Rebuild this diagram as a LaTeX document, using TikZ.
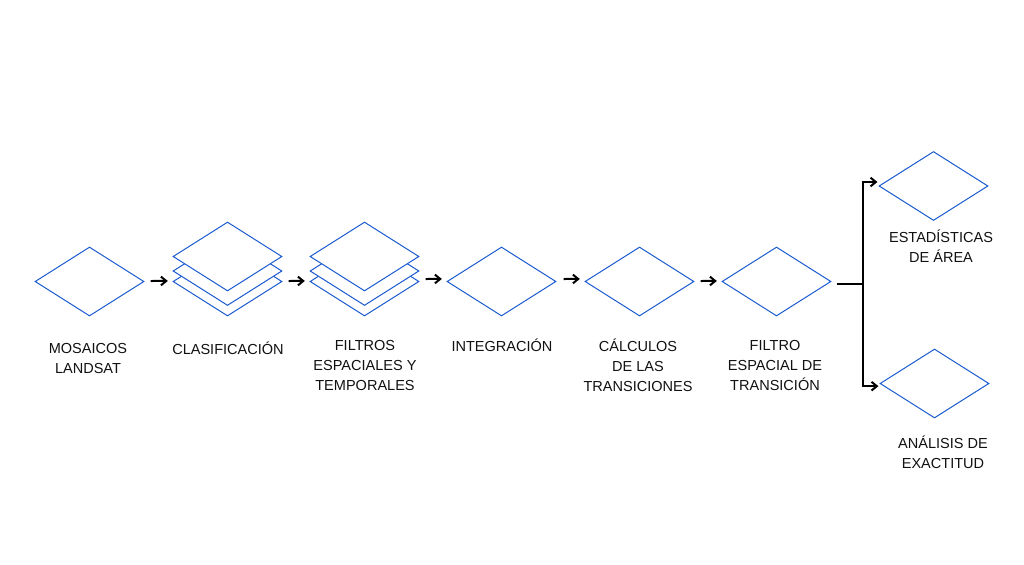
\documentclass[tikz,border=0pt]{standalone}
\usepackage{fontspec}
\setmainfont{Liberation Sans}
\usetikzlibrary{shapes.geometric,arrows.meta}
\definecolor{dblue}{HTML}{1A5BD0}
\definecolor{txt}{HTML}{111111}
\begin{document}
\begin{tikzpicture}[x=0.75pt,y=-0.75pt,
  dia/.style={diamond,draw=dblue,fill=white,line width=0.75pt,inner sep=0pt,minimum width=81.75pt,minimum height=51.75pt},
  lbl/.style={font=\fontsize{10.9}{15}\selectfont,text=txt,align=center,inner sep=0pt},
  arr/.style={-{Straight Barb[length=4pt,width=6.5pt]},line width=1.5pt,black},
  ln/.style={line width=1.5pt,black}]
\useasboundingbox (0,0) rectangle (1024,564);
\fill[white] (0,0) rectangle (1024,564);
% diamonds
\node[dia] (d1) at (89.5,281.5) {};
\node[dia] (d2c) at (227.5,281.5) {};
\node[dia] (d2b) at (227.5,271) {};
\node[dia] (d2) at (227.5,256.5) {};
\node[dia] (d3c) at (364.5,281.5) {};
\node[dia] (d3b) at (364.5,271) {};
\node[dia] (d3) at (364.5,256.5) {};
\node[dia] (d4) at (501.5,281.5) {};
\node[dia] (d5) at (639.5,281.5) {};
\node[dia] (d6) at (776.5,281.5) {};
\node[dia] (d7) at (933.5,186) {};
\node[dia] (d8) at (934.5,383.5) {};
% labels
\node[lbl] (t1) at (88,358) {MOSAICOS\\LANDSAT};
\node[lbl] (t2) at (228,348) {CLASIFICACIÓN};
\node[lbl] (t3) at (365,365) {FILTROS\\ESPACIALES Y\\TEMPORALES};
\node[lbl] (t4) at (502,345) {INTEGRACIÓN};
\node[lbl] (t5) at (638,365) {CÁLCULOS\\DE LAS\\TRANSICIONES};
\node[lbl] (t6) at (775,365) {FILTRO\\ESPACIAL DE\\TRANSICIÓN};
\node[lbl] (t7) at (941,246) {ESTADÍSTICAS\\DE ÁREA};
\node[lbl] (t8) at (943,452) {ANÁLISIS DE\\EXACTITUD};
% arrows
\draw[arr] (d1.east) ++(6,-0.5) -- ([xshift=-3.5pt,yshift=0.4pt]d1.east -| d2.west);
\draw[arr] (d2c.east) ++(6,-0.5) -- ([xshift=-3.5pt,yshift=0.4pt]d2c.east -| d3.west);
\draw[arr] (d3c.east) ++(6,-2.5) -- ([xshift=-3.5pt,yshift=1.9pt]d3c.east -| d4.west);
\draw[arr] (d4.east) ++(7,-2.5) -- ([xshift=-3.5pt,yshift=1.9pt]d4.east -| d5.west);
\draw[arr] (d5.east) ++(6,-0.5) -- ([xshift=-3.5pt,yshift=0.4pt]d5.east -| d6.west);
\coordinate (br) at (863,284);
\draw[ln] (d6.east) ++(5,2.5) -- (br);
\draw[arr] (br) |- ([xshift=-0.8pt,yshift=3pt]d7.west);
\draw[arr] (br) |- ([xshift=-0.8pt,yshift=-2pt]d8.west);
\end{tikzpicture}
\end{document}
